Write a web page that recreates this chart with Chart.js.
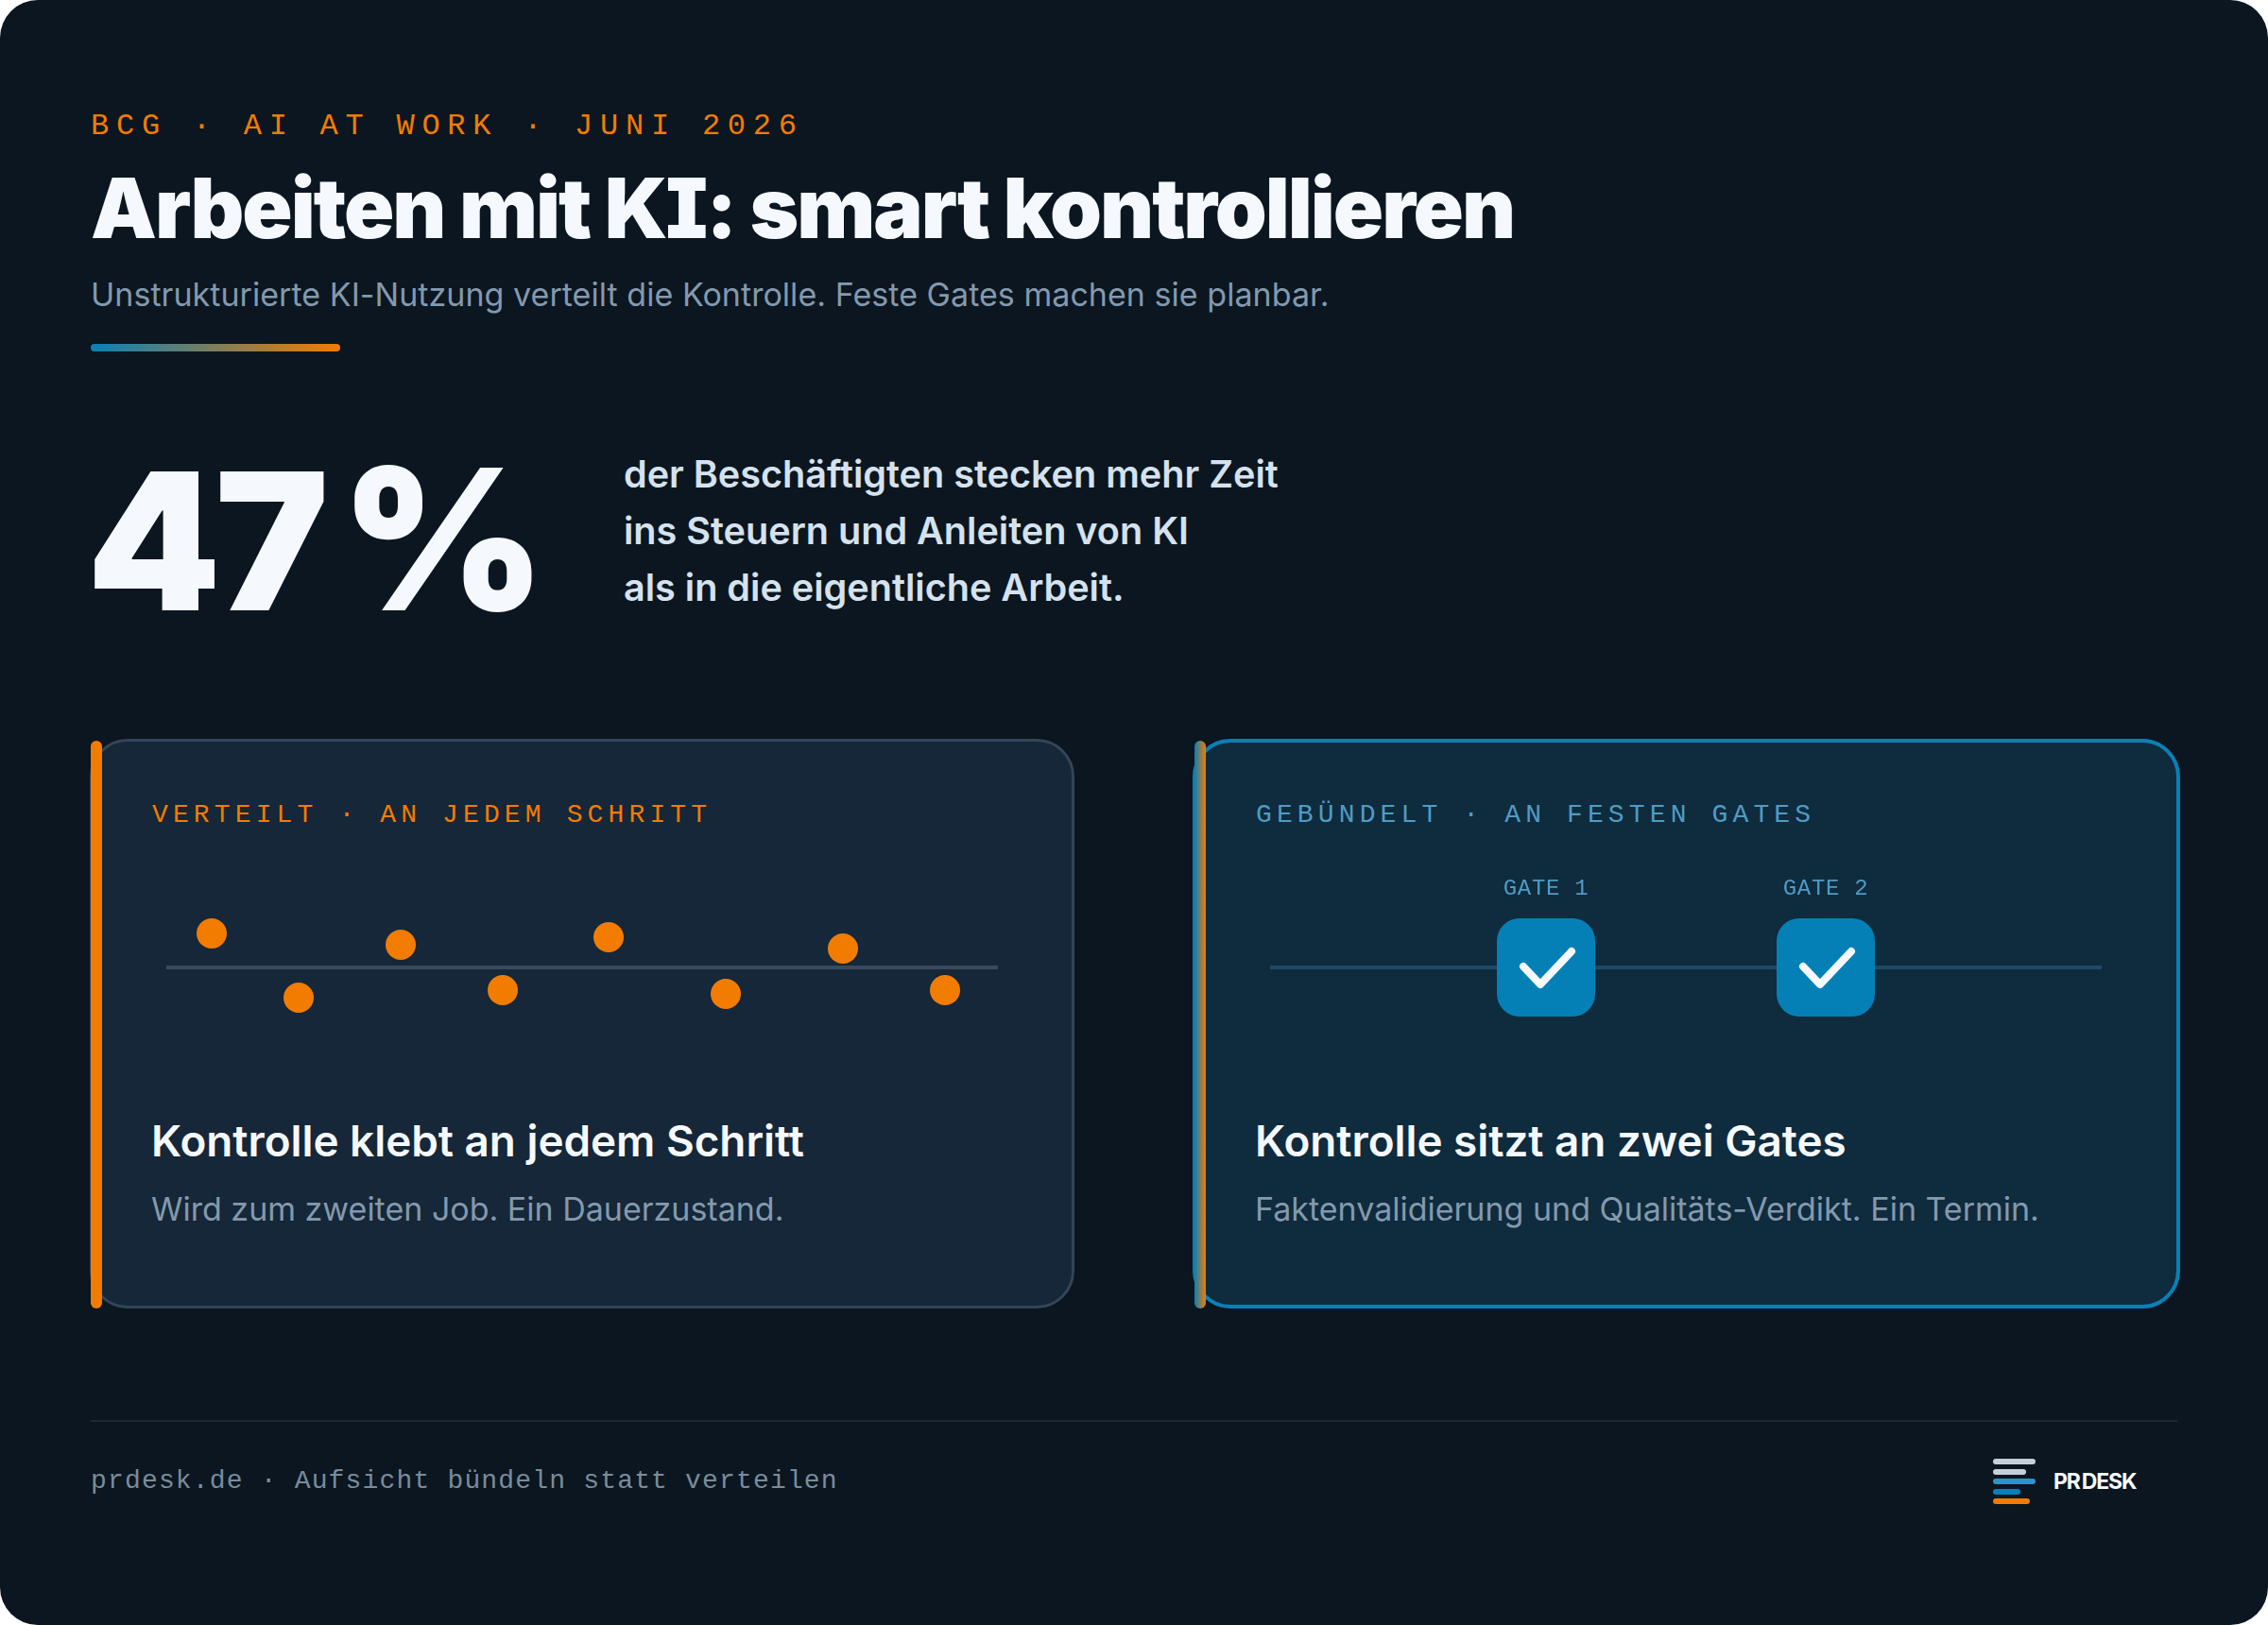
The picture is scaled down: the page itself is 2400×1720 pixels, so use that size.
<!DOCTYPE html>
<html lang="de">
<head>
<meta charset="utf-8">
<title>Arbeiten mit KI: smart kontrollieren</title>
<script src="https://cdn.jsdelivr.net/npm/chart.js@4/dist/chart.umd.min.js"></script>
<style>
  html, body { margin: 0; padding: 0; background: #fff; }
  #page { position: relative; width: 2400px; height: 1720px; background: #0b1620; border-radius: 40px; overflow: hidden; font-family: 'Inter', sans-serif; }
  #page > * { position: absolute; white-space: nowrap; }
  .mono { font-family: 'Liberation Mono', monospace; }
  #eyebrow { left: 96px; top: 115px; font-size: 32px; line-height: 38px; letter-spacing: 7.75px; color: #f27c00; }
  #title { left: 96px; top: 164px; font-size: 88px; line-height: 112px; font-weight: 900; letter-spacing: -2px; font-feature-settings: 'cv08'; color: #f5f9fd; }
  #sub { left: 96px; top: 288px; font-size: 34px; line-height: 48px; letter-spacing: 0.04px; color: #8499ad; }
  #rule { left: 96px; top: 364px; width: 264px; height: 8px; border-radius: 4px; background: linear-gradient(90deg, #0a80b8, #f27c00); }
  #big { left: 92px; top: 450px; font-size: 202px; line-height: 240px; font-weight: 900; letter-spacing: -6px; word-spacing: -16px; color: #f5f9fd; }
  #big span { font-size: 208px; }
  #stat { left: 660px; top: 472px; font-size: 39.6px; line-height: 60px; font-weight: 600; color: #d5e2ee; }
  .card { top: 782px; box-sizing: border-box; height: 603px; border-radius: 40px; }
  #card-a { left: 95px; width: 1042px; border: 3px solid #334558; background: #152738; }
  #card-b { left: 1262px; width: 1045px; border: 4px solid #0a80b8; background: #0f2b3e; }
  .bar { top: 784px; width: 12px; height: 601px; border-radius: 6px; background: #f27c00; }
  .label { top: 846px; font-size: 28px; line-height: 34px; letter-spacing: 5.13px; }
  .head { top: 1179px; font-size: 45.8px; line-height: 58px; font-weight: 600; color: #f5f9fd; }
  .text { top: 1256px; font-size: 34px; line-height: 48px; color: #8499ad; }
  canvas { position: absolute; }
  #foot-line { left: 96px; top: 1503px; width: 2208px; height: 2px; background: #1d2a36; }
  #foot { left: 96px; top: 1551px; font-size: 28px; line-height: 34px; letter-spacing: 1.17px; color: #7a8c9c; }
  .logo { left: 2109px; height: 6px; border-radius: 3px; }
  #brand { left: 2173px; top: 1554px; font-size: 23px; line-height: 28px; font-weight: 700; letter-spacing: -1.2px; word-spacing: -2px; color: #f5f9fd; }
</style>
</head>
<body>
<div id="page">
  <div id="eyebrow" class="mono">BCG · AI AT WORK · JUNI 2026</div>
  <div id="title">Arbeiten mit KI: smart kontrollieren</div>
  <div id="sub">Unstrukturierte KI-Nutzung verteilt die Kontrolle. Feste Gates machen sie planbar.</div>
  <div id="rule"></div>
  <div id="big">47 <span>%</span></div>
  <div id="stat">der Beschäftigten stecken mehr Zeit<br>ins Steuern und Anleiten von KI<br>als in die eigentliche Arbeit.</div>

  <div id="card-a" class="card"></div>
  <div class="bar" style="left:96px"></div>
  <div class="label mono" style="left:161px;color:#f27c00">VERTEILT · AN JEDEM SCHRITT</div>
  <canvas id="chartVerteilt" width="880" height="200" style="left:176px;top:924px"></canvas>
  <div class="head" style="left:160px">Kontrolle klebt an jedem Schritt</div>
  <div class="text" style="left:160px">Wird zum zweiten Job. Ein Dauerzustand.</div>

  <div id="card-b" class="card"></div>
  <div class="bar" style="left:1264px;background:linear-gradient(90deg,#0a80b8,#f27c00)"></div>
  <div class="label mono" style="left:1329px;color:#4f9cc4">GEBÜNDELT · AN FESTEN GATES</div>
  <canvas id="chartGates" width="880" height="200" style="left:1344px;top:924px"></canvas>
  <div class="head" style="left:1328px">Kontrolle sitzt an zwei Gates</div>
  <div class="text" style="left:1328px">Faktenvalidierung und Qualitäts-Verdikt. Ein Termin.</div>

  <div id="foot-line"></div>
  <div id="foot" class="mono">prdesk.de · Aufsicht bündeln statt verteilen</div>
  <div class="logo" style="top:1544px;width:45px;background:#c5d0da"></div>
  <div class="logo" style="top:1555px;width:35px;background:#c5d0da"></div>
  <div class="logo" style="top:1565px;width:45px;background:#2a95c8"></div>
  <div class="logo" style="top:1576px;width:29px;background:#0a80b8"></div>
  <div class="logo" style="top:1586px;width:39px;background:#f27c00"></div>
  <div id="brand">PR DESK</div>
</div>

<script>
// ── DATEN ──
const lineX = [0, 440];
const lineY = [0, 0];
const pointX = [24, 70, 124, 178, 234, 296, 358, 412];
const pointY = [18, -16, 12, -12, 16, -14, 10, -12];
const gateX = [146, 294];
const gateY = [0, 0];
const gateLabels = ['GATE 1', 'GATE 2'];

const xy = (xs, ys) => xs.map((x, i) => ({ x, y: ys[i] }));

const BASE_OPTS = {
  responsive: false, animation: false, devicePixelRatio: 1,
  layout: { padding: 0, autoPadding: false },
  plugins: { legend: { display: false }, tooltip: { enabled: false } },
  scales: {
    x: { type: 'linear', min: 0, max: 440, display: false },
    y: { type: 'linear', min: -50, max: 50, display: false }
  }
};

// ── VERTEILT ──
new Chart(document.getElementById('chartVerteilt'), {
  type: 'scatter',
  data: { datasets: [
    { data: xy(lineX, lineY), showLine: true, borderColor: '#3a4a5c', borderWidth: 4, pointRadius: 0, order: 2 },
    { data: xy(pointX, pointY), backgroundColor: '#f27c00', borderWidth: 0, pointRadius: 16, clip: false, order: 1 }
  ] },
  options: BASE_OPTS
});

// ── GATES ──
function gateIcon() {
  const c = document.createElement('canvas');
  c.width = c.height = 104;
  const g = c.getContext('2d');
  g.fillStyle = '#0580b7';
  g.beginPath(); g.roundRect(0, 0, 104, 104, 24); g.fill();
  g.strokeStyle = '#f5f9fd'; g.lineWidth = 8; g.lineCap = 'round'; g.lineJoin = 'round';
  g.beginPath(); g.moveTo(28, 51); g.lineTo(46, 70); g.lineTo(79, 35); g.stroke();
  return c;
}

const gateLabelPlugin = {
  id: 'gateLabels',
  afterDatasetsDraw(chart) {
    const { ctx, scales } = chart;
    ctx.save();
    ctx.font = "24px 'Liberation Mono', monospace";
    ctx.letterSpacing = '0.7px';
    ctx.fillStyle = '#4f9cc4';
    ctx.textAlign = 'center';
    ctx.textBaseline = 'middle';
    gateLabels.forEach((t, i) => ctx.fillText(t, scales.x.getPixelForValue(gateX[i]), 17));
    ctx.restore();
  }
};

new Chart(document.getElementById('chartGates'), {
  type: 'scatter',
  data: { datasets: [
    { data: xy(lineX, lineY), showLine: true, borderColor: '#1f4a66', borderWidth: 4, pointRadius: 0, order: 2 },
    { data: xy(gateX, gateY), pointStyle: gateIcon(), pointRadius: 52, clip: false, order: 1 }
  ] },
  options: BASE_OPTS,
  plugins: [gateLabelPlugin]
});
</script>
</body>
</html>
